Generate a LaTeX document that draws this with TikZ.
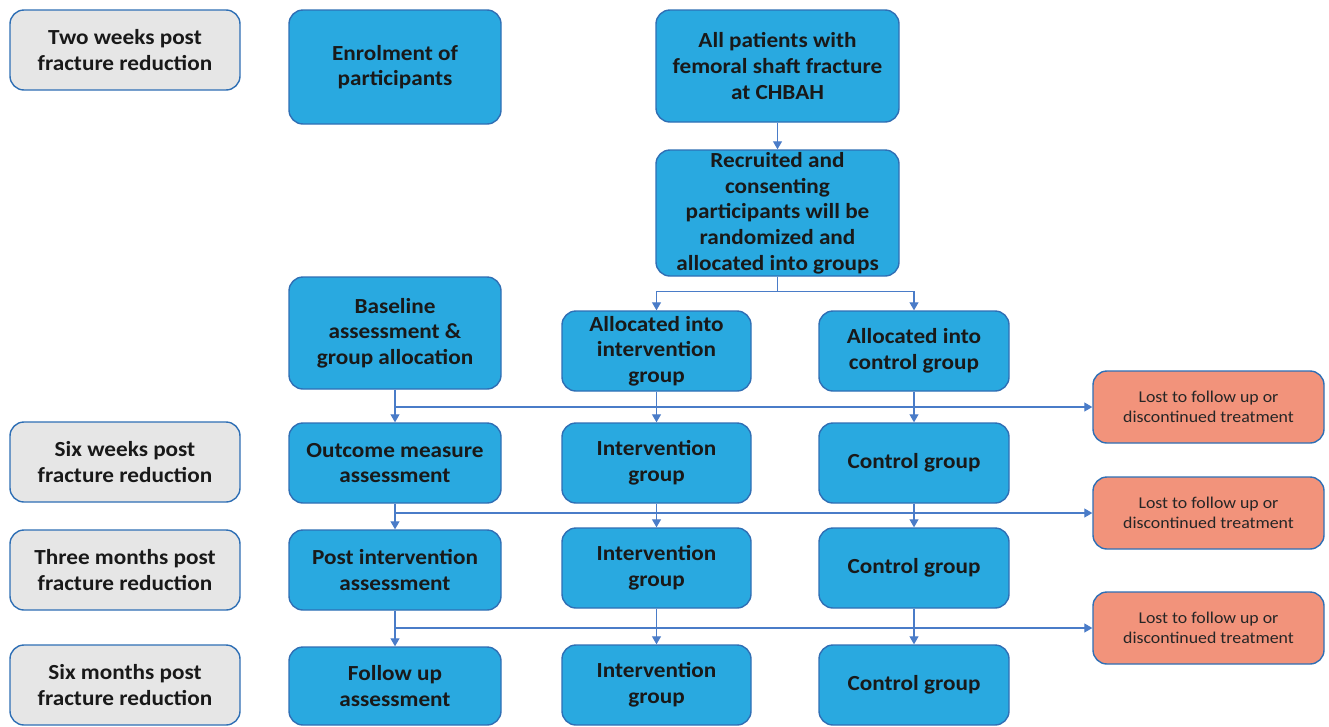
\documentclass[tikz,border=0pt]{standalone}
\usepackage{fontspec}
\setmainfont[FakeStretch=1.08]{Carlito}
\usetikzlibrary{arrows.meta}
\definecolor{boxblue}{HTML}{29A9E0}
\definecolor{edgeblue}{HTML}{2F6FB5}
\definecolor{greyfill}{HTML}{E6E6E6}
\definecolor{redfill}{HTML}{F2937B}
\definecolor{lineblue}{HTML}{4A7CC8}
\tikzset{
  base/.style={draw=edgeblue, line width=1.4pt, rounded corners=14pt, align=center, inner sep=2pt},
  bluebox/.style={base, fill=boxblue, font=\bfseries\fontsize{21.5}{25.7}\selectfont, text=black!90},
  greybox/.style={base, fill=greyfill, font=\bfseries\fontsize{21.5}{25.7}\selectfont, text=black!90, minimum width=230pt, minimum height=80pt},
  lostbox/.style={base, fill=redfill, font=\fontsize{16.5}{20}\selectfont, text=black!85, minimum width=231pt, minimum height=72pt},
  c2/.style={bluebox, minimum width=212pt},
  c3/.style={bluebox, minimum width=189pt, minimum height=80pt},
  c4/.style={bluebox, minimum width=190pt, minimum height=80pt},
  conn/.style={draw=lineblue, line width=1.1pt},
  arr/.style={conn, -{Triangle[length=8pt,width=9pt]}}
}
\begin{document}
\begin{tikzpicture}[x=1pt,y=-1pt]
\useasboundingbox[fill=white] (0,0) rectangle (1329,726);
% left column
\node[greybox] (tw) at (125,50) {Two weeks post\\fracture reduction};
\node[greybox] (sw) at (125,462) {Six weeks post\\fracture reduction};
\node[greybox] (tm) at (125,570) {Three months post\\fracture reduction};
\node[greybox] (sm) at (125,685) {Six months post\\fracture reduction};
% column 2
\node[c2, minimum height=114pt] (enrol) at (395,67) {Enrolment of\\participants};
\node[c2, minimum height=112pt] (basel) at (395,333) {Baseline\\assessment \&\\group allocation};
\node[c2, minimum height=80pt] (outc) at (395,463) {Outcome measure\\assessment};
\node[c2, minimum height=80pt] (posti) at (395,570) {Post intervention\\assessment};
\node[c2, minimum height=78pt] (follow) at (395,686) {Follow up\\assessment};
% top of column 3
\node[bluebox, minimum width=243pt, minimum height=112pt] (allp) at (777.5,66) {All patients with\\femoral shaft fracture\\at CHBAH};
\node[bluebox, minimum width=243pt, minimum height=126pt] (recr) at (777.5,213) {Recruited and\\consenting\\participants will be\\randomized and\\allocated into groups};
% column 3
\node[c3] (ai) at (656.5,351) {Allocated into\\intervention\\group};
\node[c3] (ig1) at (656.5,463) {Intervention\\group};
\node[c3] (ig2) at (656.5,568) {Intervention\\group};
\node[c3] (ig3) at (656.5,685) {Intervention\\group};
% column 4
\node[c4] (ac) at (914,351) {Allocated into\\control group};
\node[c4] (cg1) at (914,463) {Control group};
\node[c4] (cg2) at (914,568) {Control group};
\node[c4] (cg3) at (914,685) {Control group};
% lost boxes
\node[lostbox] (l1) at (1208.5,407) {Lost to follow up or\\discontinued treatment};
\node[lostbox] (l2) at (1208.5,513) {Lost to follow up or\\discontinued treatment};
\node[lostbox] (l3) at (1208.5,628) {Lost to follow up or\\discontinued treatment};
% connectors
\draw[arr] (allp) -- (recr);
\draw[arr] (recr.south) -- ++(0,15) -| (ai.north);
\draw[arr] (recr.south) -- ++(0,15) -| (ac.north);
\draw[arr] (basel) -- (outc);
\draw[arr] (ai) -- (ig1);
\draw[arr] (ac) -- (cg1);
\draw[arr] (basel.south |- l1.west) -- (l1.west);
\draw[arr] (outc) -- (posti);
\draw[arr] (ig1) -- (ig2);
\draw[arr] (cg1) -- (cg2);
\draw[arr] (outc.south |- l2.west) -- (l2.west);
\draw[arr] (posti) -- (follow);
\draw[arr] (ig2) -- (ig3);
\draw[arr] (cg2) -- (cg3);
\draw[arr] (posti.south |- l3.west) -- (l3.west);
\end{tikzpicture}
\end{document}
